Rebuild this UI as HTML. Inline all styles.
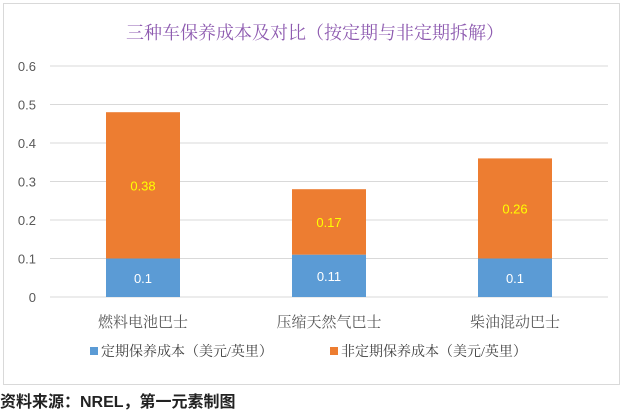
<!DOCTYPE html>
<html><head><meta charset="utf-8"><style>
body{margin:0;background:#fff;width:634px;height:412px;overflow:hidden;font-family:"Liberation Sans","Noto Sans CJK SC",sans-serif}
.serif{font-family:"Liberation Serif","Noto Serif CJK SC",serif}
</style></head><body>
<svg width="634" height="412" xmlns="http://www.w3.org/2000/svg" font-family="Liberation Sans, Noto Sans CJK SC, sans-serif">
<rect x="3.5" y="3.5" width="616" height="381" fill="#fff" stroke="#d9d9d9"/>
<text class="serif" x="315" y="39" text-anchor="middle" font-size="18" fill="#8e5bb0">三种车保养成本及对比（按定期与非定期拆解）</text>
<g id="grid"></g><g id="bars"></g>
<g>
<rect x="90" y="347" width="8" height="8" fill="#5b9bd5"/>
<text class="serif" x="101" y="356" font-size="14" fill="#404040">定期保养成本（美元/英里）</text>
<rect x="330" y="347" width="8" height="8" fill="#ed7d31"/>
<text class="serif" x="341" y="356" font-size="14" fill="#404040">非定期保养成本（美元/英里）</text>
</g>
<text x="0" y="407" font-size="16" font-weight="bold" fill="#222">资料来源：NREL，第一元素制图</text>
</svg>
<script>
const categories=["燃料电池巴士","压缩天然气巴士","柴油混动巴士"];
const scheduled=[0.1,0.11,0.1];
const unscheduled=[0.38,0.17,0.26];
const ticks=[0,0.1,0.2,0.3,0.4,0.5,0.6];
const NS="http://www.w3.org/2000/svg";
const x0=50,x1=608,y0=297,yTop=66,maxV=0.6;
const y=v=>y0-(v/maxV)*(y0-yTop);
const band=(x1-x0)/categories.length;
const xc=i=>x0+band*(i+0.5);
const bw=74;
function mk(t,a,p,txt){const e=document.createElementNS(NS,t);for(const k in a)e.setAttribute(k,a[k]);if(txt!==undefined)e.textContent=txt;p.appendChild(e);return e;}
const g=document.getElementById('grid'),b=document.getElementById('bars');
ticks.forEach(t=>{
 const l=mk('line',{x1:x0,x2:x1,y1:y(t),y2:y(t),stroke:'#d9d9d9'},g);
 
 
 const tx=mk('text',{x:36,y:y(t)+5,'text-anchor':'end','font-size':13,fill:'#595959'},g,String(t));
 
 
});
categories.forEach((c,i)=>{
 const s=scheduled[i],u=unscheduled[i];
 const r1=mk('rect',{x:xc(i)-bw/2,y:y(s),width:bw,height:y0-y(s),fill:'#5b9bd5'},b);
 
 
 const r2=mk('rect',{x:xc(i)-bw/2,y:y(s+u),width:bw,height:y(s)-y(s+u),fill:'#ed7d31'},b);
 
 
 const l1=mk('text',{x:xc(i),y:(y(s)+y0)/2+5,'text-anchor':'middle','font-size':13,fill:'#fff'},b,String(s));
 
 
 const l2=mk('text',{x:xc(i),y:(y(s)+y(s+u))/2+5,'text-anchor':'middle','font-size':13,fill:'#ffff00'},b,String(u));
 
 
 const cl=mk('text',{x:xc(i),y:327,'text-anchor':'middle','font-size':15,fill:'#595959',class:'serif'},b,c);
 
 
});
</script>
</body></html>
